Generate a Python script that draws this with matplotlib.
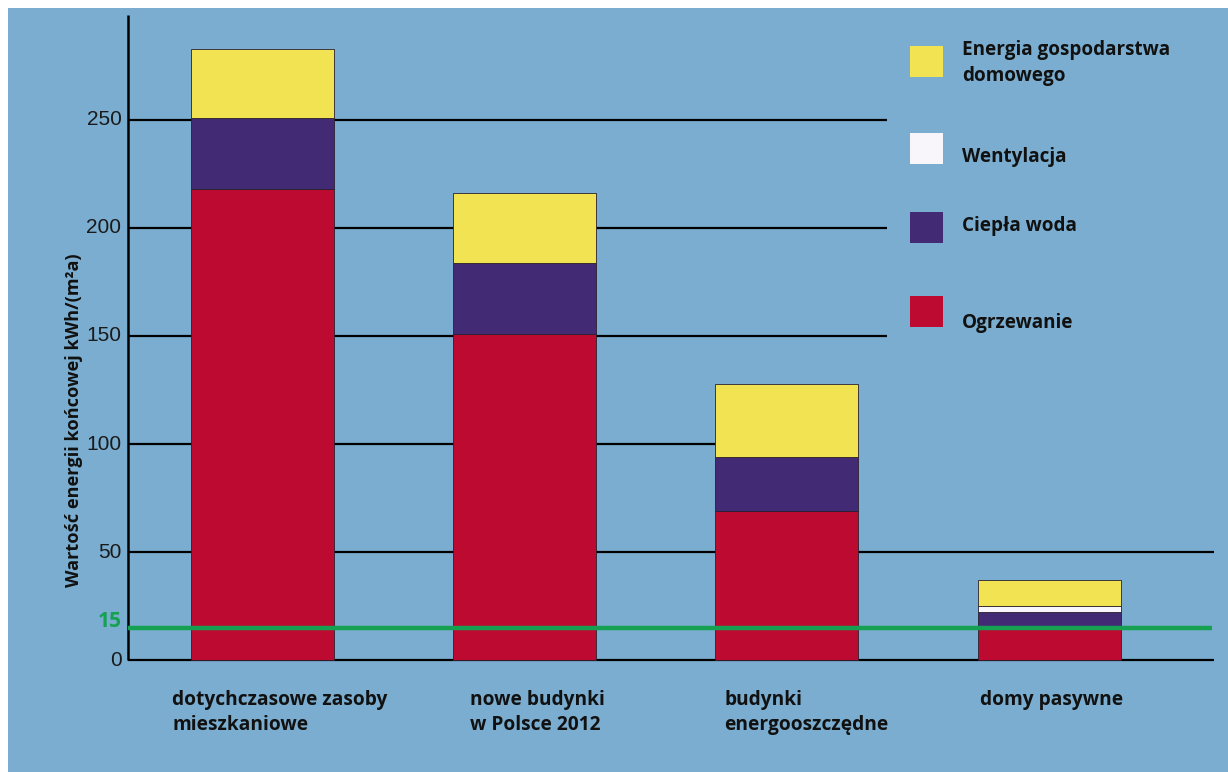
import matplotlib.pyplot as plt
from matplotlib.patches import Rectangle

# data (kWh/(m2a))
categories = ["dotychczasowe zasoby\nmieszkaniowe",
              "nowe budynki\nw Polsce 2012",
              "budynki\nenergooszczędne",
              "domy pasywne"]
ogrzewanie = [218, 151, 69, 15]
ciepla_woda = [33, 33, 25, 7]
wentylacja = [0, 0, 0, 3]
energia_dom = [32, 32, 34, 12]
passive_limit = 15
yticks = [0, 50, 100, 150, 200, 250]

series_names = ["Ogrzewanie", "Ciepła woda", "Wentylacja", "Energia gospodarstwa\ndomowego"]
series_vals = [ogrzewanie, ciepla_woda, wentylacja, energia_dom]
colours = ["#bd0a30", "#432a75", "#f8f6fb", "#f1e351"]

BG = "#7aadcf"
FONT = ["Open Sans", "DejaVu Sans"]
NARROW = ["Liberation Sans Narrow", "Liberation Sans", "DejaVu Sans"]

fig = plt.figure(figsize=(12.28, 7.72), dpi=100, facecolor="white")
W, H = 1228, 772
ax = fig.add_axes([8 / W, 0, 1220 / W, 764 / H])
ax.set_facecolor(BG)

# pixel-fitted limits: y=0 at px 660, 2.16 px/unit; x step 262.2 px
ax.set_ylim(-51.85, 301.85)
ax.set_xlim(-0.9706, 3.682)

x = list(range(len(categories)))
bottom = [0] * len(categories)
for vals, col in zip(series_vals, colours):
    ax.bar(x, vals, width=0.545, bottom=bottom, color=col,
           edgecolor="#2a2030", linewidth=0.6, zorder=3)
    bottom = [b + v for b, v in zip(bottom, vals)]

# horizontal lines behind the bars (different lengths as in original)
axis_x = -0.513
line_ends = {250: 2.382, 200: 2.382, 150: 2.382, 100: 1.73, 50: 3.63, 0: 3.63}
for yv in yticks:
    ax.hlines(yv, axis_x, line_ends[yv], color="black", lw=1.6, zorder=2)

ax.vlines(axis_x, 0, 298.6, color="black", lw=1.8, zorder=2)
ax.hlines(passive_limit, axis_x, 3.62, color="#16a152", lw=3.2, zorder=5)

for s in ax.spines.values():
    s.set_visible(False)
ax.set_xticks([])
ax.set_yticks([])

for yv in yticks:
    ax.text(axis_x - 0.025, yv, str(yv), ha="right", va="center",
            fontsize=15, color="#1a1a1a", family=NARROW, zorder=6)
ax.text(axis_x - 0.025, passive_limit + 3, str(passive_limit), ha="right", va="center",
        fontsize=15, color="#16a152", fontweight="bold", family=FONT, zorder=6)

ax.text(-0.72, 111, "Wartość energii końcowej kWh/(m²a)", rotation=90,
        ha="center", va="center", fontsize=13.1, fontweight="bold",
        color="#111111", family=FONT)

label_off = [-0.345, -0.209, -0.240, -0.264]
for i, (lab, off) in enumerate(zip(categories, label_off)):
    ax.text(i + off, -14, lab, ha="left", va="top", fontsize=13.8,
            fontweight="bold", color="#111111", family=FONT, linespacing=1.3)

# legend drawn by hand to keep the uneven spacing
legend_rows = [(3, 46, 63), (2, 133, 157), (1, 212, 226), (0, 296, 323)]
for idx, top_px, text_px in legend_rows:
    fig.patches.append(Rectangle((910 / W, 1 - (top_px + 31) / H), 33 / W, 31 / H,
                                 transform=fig.transFigure, facecolor=colours[idx],
                                 edgecolor="none"))
    fig.text(962 / W, 1 - text_px / H, series_names[idx], ha="left", va="center",
             fontsize=13.6, fontweight="bold", color="#111111", family=FONT,
             linespacing=1.35)

fig.savefig("out.png", dpi=100, facecolor="white")
